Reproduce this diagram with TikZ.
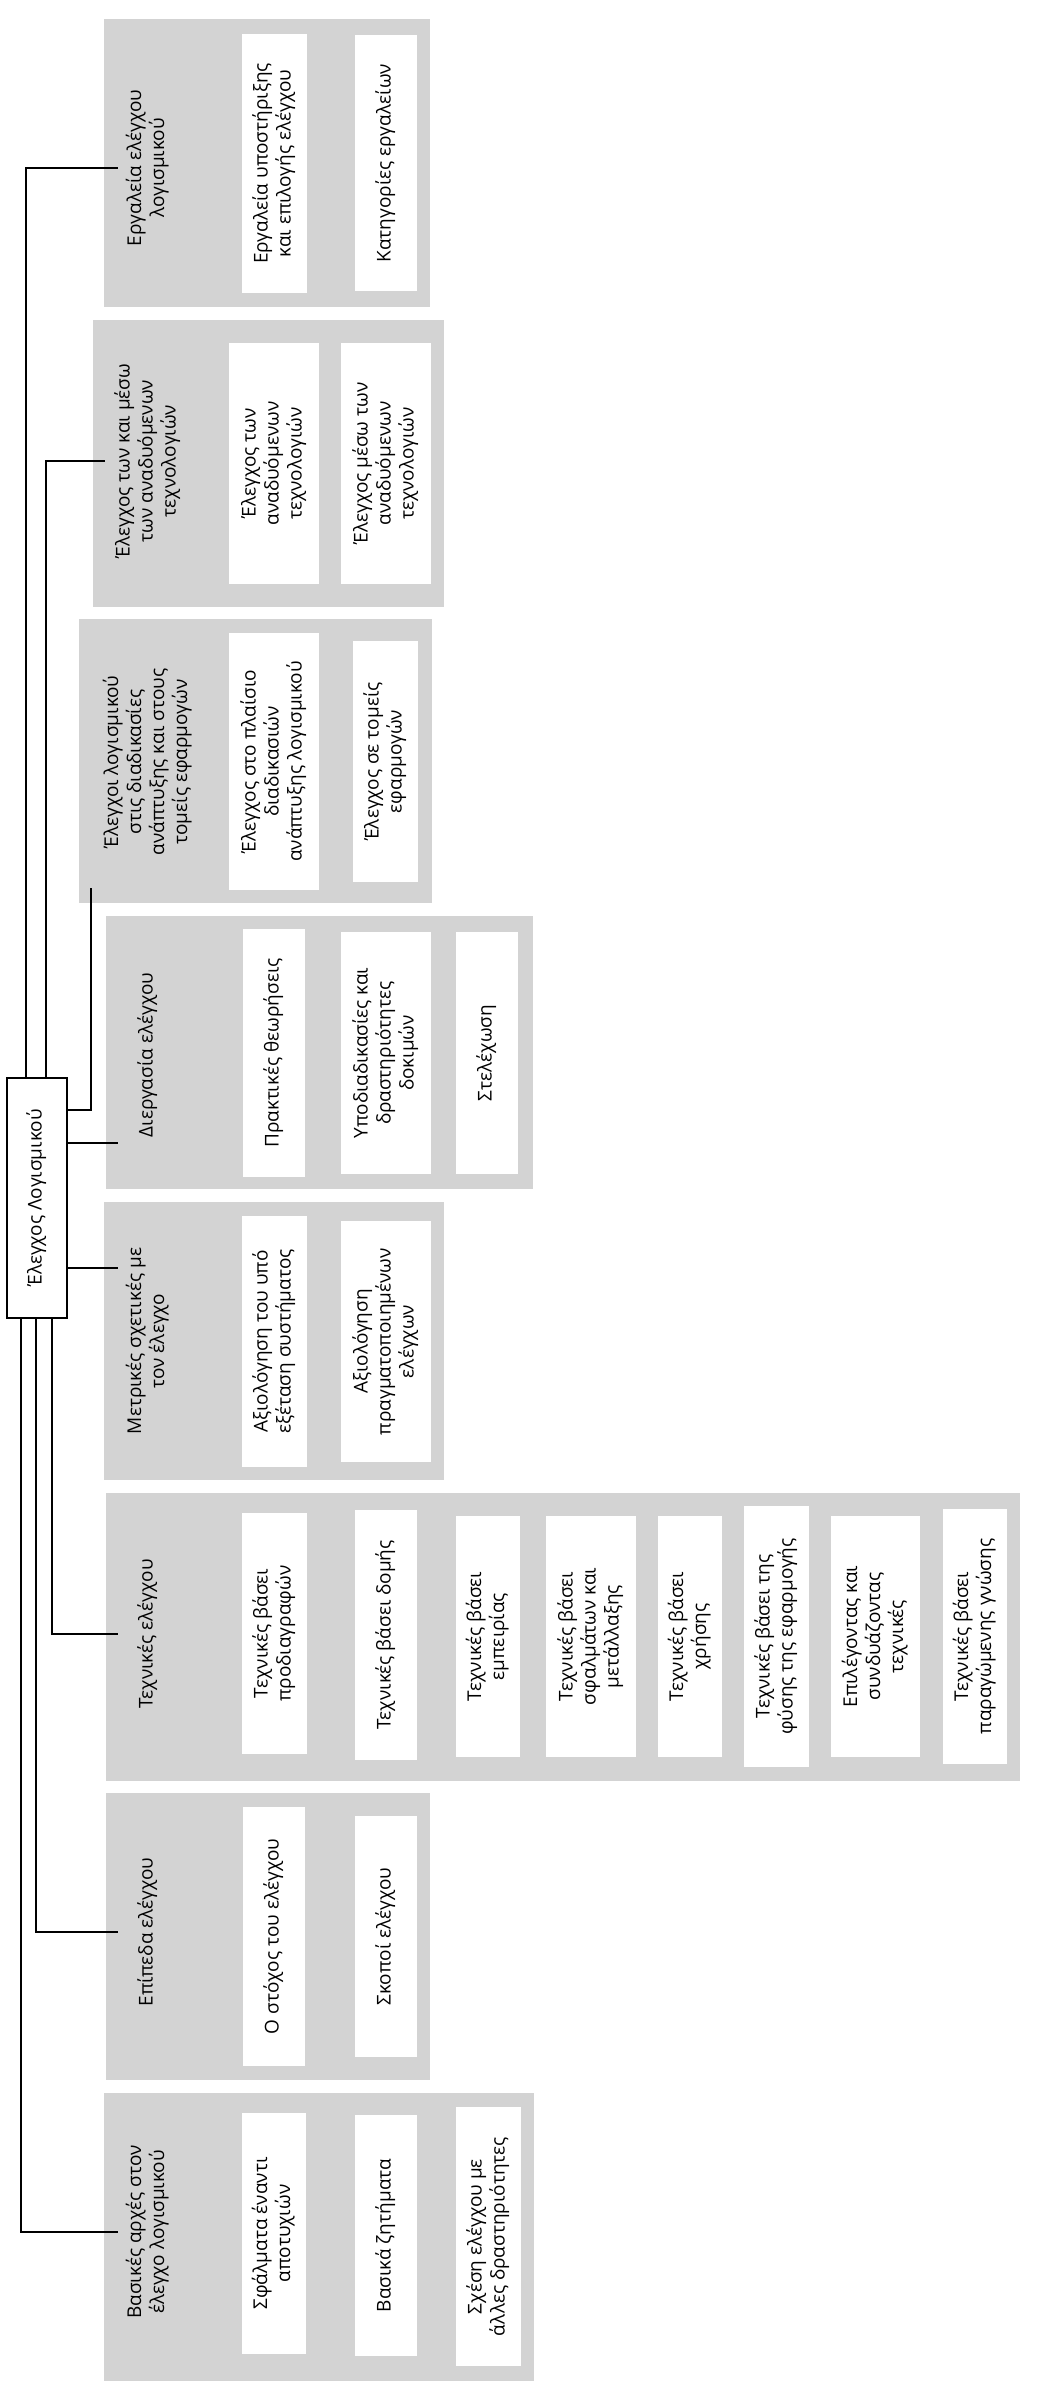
\documentclass[tikz,border=0pt]{standalone}
\usepackage{graphicx}
\usepackage{fontspec}
\setmainfont{Open Sans}
\definecolor{grpfill}{RGB}{211,211,211}
% upright text turned to read bottom-to-top
\newcommand\vtext[1]{\rotatebox{90}{\begin{tabular}{@{}c@{}}#1\end{tabular}}}
% white leaf box given by its corners (x1,y1,x2,y2)
\newcommand\leafbox[6]{%
  \pgfmathsetmacro\lbw{#4-#2}%
  \pgfmathsetmacro\lbh{#5-#3}%
  \pgfmathsetmacro\lbx{(#2+#4)/2}%
  \pgfmathsetmacro\lby{(#3+#5)/2}%
  \node[leaf, minimum width=\lbw pt, minimum height=\lbh pt] (#1) at (\lbx,\lby) {\vtext{#6}};}
% grey group panel given by its corners
\newcommand\groupbox[5]{%
  \pgfmathsetmacro\lbw{#4-#2}%
  \pgfmathsetmacro\lbh{#5-#3}%
  \pgfmathsetmacro\lbx{(#2+#4)/2}%
  \pgfmathsetmacro\lby{(#3+#5)/2}%
  \node[grpbox, minimum width=\lbw pt, minimum height=\lbh pt] (#1) at (\lbx,\lby) {};}
\begin{document}
\begin{tikzpicture}[x=1pt,y=-1pt,
  every node/.style={font=\fontsize{19}{23}\selectfont, inner sep=0pt, outer sep=0pt},
  grpbox/.style={rectangle, fill=grpfill},
  leaf/.style={rectangle, fill=white},
  lbl/.style={rectangle, minimum width=60pt},
  rootbox/.style={rectangle, draw=black, line width=1.3pt, fill=white},
  wire/.style={draw=black, line width=1.2pt}]
\useasboundingbox[fill=white] (0,0) rectangle (1040,2400);

% ---- group panels
\groupbox{g1}{104}{19}{430}{307}
\groupbox{g2}{93}{320}{444}{607}
\groupbox{g3}{79}{619}{432}{903}
\groupbox{g4}{106}{916}{533}{1189}
\groupbox{g5}{104}{1202}{444}{1480}
\groupbox{g6}{106}{1493}{1020}{1781}
\groupbox{g7}{106}{1793}{430}{2080}
\groupbox{g8}{104}{2093}{534}{2381}

% ---- group titles
\node[lbl] (g1l) at (148,168) {\vtext{Εργαλεία ελέγχου\\λογισμικού}};
\node[lbl, minimum width=86pt] (g2l) at (148,461) {\vtext{Έλεγχος των και μέσω\\των αναδυόμενων\\τεχνολογιών}};
\node[lbl] (g3l) at (148,762) {\vtext{Έλεγχοι λογισμικού\\στις διαδικασίες\\ανάπτυξης και στους\\τομείς εφαρμογών}};
\node[lbl] (g4l) at (148,1055) {\vtext{Διεργασία ελέγχου}};
\node[lbl] (g5l) at (148,1341) {\vtext{Μετρικές σχετικές με\\τον έλεγχο}};
\node[lbl] (g6l) at (148,1634) {\vtext{Τεχνικές ελέγχου}};
\node[lbl] (g7l) at (148,1932) {\vtext{Επίπεδα ελέγχου}};
\node[lbl] (g8l) at (148,2232) {\vtext{Βασικές αρχές στον\\έλεγχο λογισμικού}};

% ---- leaves
\leafbox{l1a}{242}{34}{307}{293}{Εργαλεία υποστήριξης\\και επιλογής ελέγχου}
\leafbox{l1b}{355}{35}{417}{291}{Κατηγορίες εργαλείων}

\leafbox{l2a}{229}{343}{319}{584}{Έλεγχος των\\αναδυόμενων\\τεχνολογιών}
\leafbox{l2b}{341}{343}{431}{584}{Έλεγχος μέσω των\\αναδυόμενων\\τεχνολογιών}

\leafbox{l3a}{229}{633}{319}{890}{Έλεγχος στο πλαίσιο\\διαδικασιών\\ανάπτυξης λογισμικού}
\leafbox{l3b}{353}{641}{418}{882}{Έλεγχος σε τομείς\\εφαρμογών}

\leafbox{l4a}{243}{929}{305}{1177}{Πρακτικές θεωρήσεις}
\leafbox{l4b}{341}{932}{431}{1174}{Υποδιαδικασίες και\\δραστηριότητες\\δοκιμών}
\leafbox{l4c}{456}{932}{518}{1174}{Στελέχωση}

\leafbox{l5a}{242}{1216}{307}{1467}{Αξιολόγηση του υπό\\εξέταση συστήματος}
\leafbox{l5b}{341}{1221}{431}{1462}{Αξιολόγηση\\πραγματοποιημένων\\ελέγχων}

\leafbox{l6a}{242}{1513}{307}{1754}{Τεχνικές βάσει\\προδιαγραφών}
\leafbox{l6b}{355}{1510}{417}{1760}{Τεχνικές βάσει δομής}
\leafbox{l6c}{456}{1516}{520}{1757}{Τεχνικές βάσει\\εμπειρίας}
\leafbox{l6d}{546}{1516}{636}{1757}{Τεχνικές βάσει\\σφαλμάτων και\\μετάλλαξης}
\leafbox{l6e}{658}{1516}{722}{1757}{Τεχνικές βάσει\\χρήσης}
\leafbox{l6f}{744}{1506}{809}{1767}{Τεχνικές βάσει της\\φύσης της εφαρμογής}
\leafbox{l6g}{831}{1516}{920}{1757}{Επιλέγοντας και\\συνδυάζοντας\\τεχνικές}
\leafbox{l6h}{943}{1509}{1007}{1764}{Τεχνικές βάσει\\παραγώμενης γνώσης}

\leafbox{l7a}{243}{1807}{305}{2066}{Ο στόχος του ελέγχου}
\leafbox{l7b}{355}{1816}{417}{2057}{Σκοποί ελέγχου}

\leafbox{l8a}{242}{2113}{306}{2354}{Σφάλματα έναντι\\αποτυχιών}
\leafbox{l8b}{355}{2115}{417}{2356}{Βασικά ζητήματα}
\leafbox{l8c}{456}{2107}{521}{2366}{Σχέση ελέγχου με\\άλλες δραστηριότητες}

% ---- root
\node[rootbox, minimum width=60pt, minimum height=240pt] (root) at (37,1198) {\vtext{Έλεγχος Λογισμικού}};

% ---- connector end points beside the titles
\path (g3l.west) ++(-11,126) coordinate (t3);
\path (g3l.west) ++(-11,348) coordinate (j3);
\path (g4l.west) ++(0,88) coordinate (t4);
\path (g5l.west) ++(0,-73) coordinate (t5);

% ---- connectors
\draw[wire] ([xshift=-11pt]root.north) |- (g1l.west);
\draw[wire] ([xshift=9pt]root.north) |- (g2l.west);
\draw[wire] (root.east |- j3) -- (j3) -- (t3);
\draw[wire] (root.east |- t4) -- (t4);
\draw[wire] (root.east |- t5) -- (t5);
\draw[wire] ([xshift=15pt]root.south) |- (g6l.west);
\draw[wire] ([xshift=-1pt]root.south) |- (g7l.west);
\draw[wire] ([xshift=-16pt]root.south) |- (g8l.west);
\end{tikzpicture}
\end{document}
